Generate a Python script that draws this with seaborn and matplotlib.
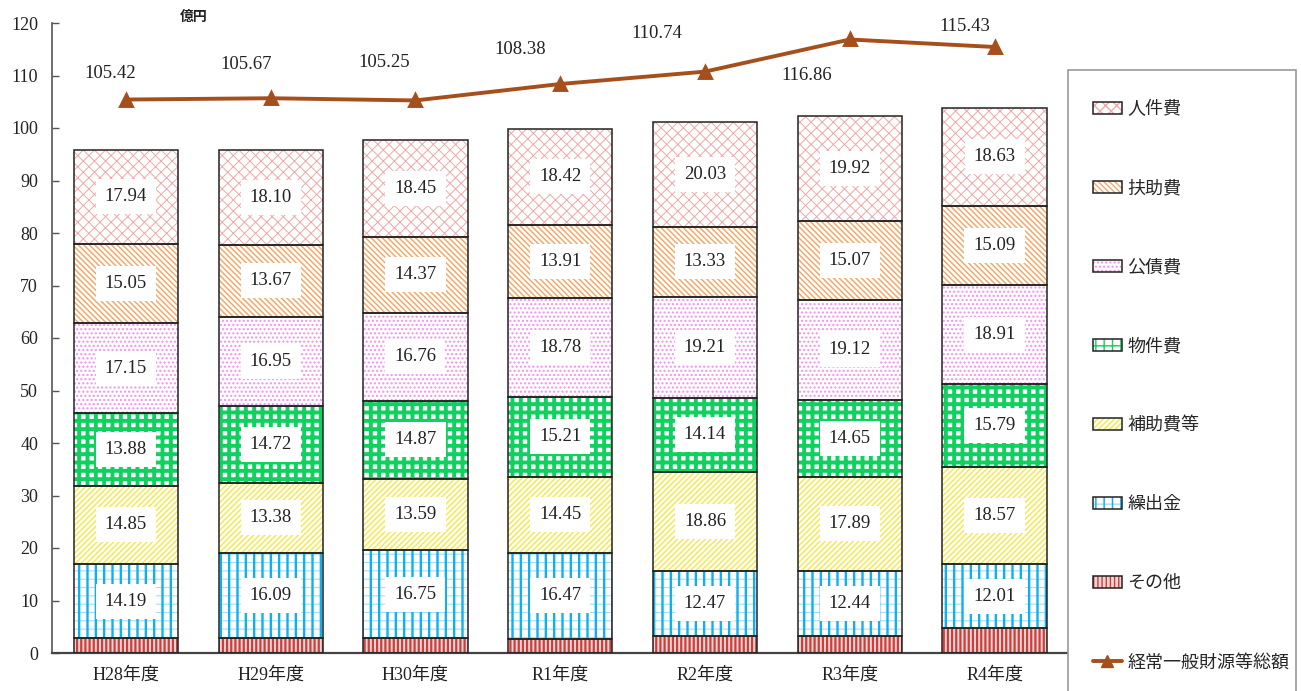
import matplotlib
matplotlib.use("Agg")
import matplotlib.pyplot as plt
import matplotlib.patches as mpatches
from matplotlib.lines import Line2D
import numpy as np
import seaborn as sns

# ---- data (億円) ----
years = ["H28年度", "H29年度", "H30年度", "R1年度", "R2年度", "R3年度", "R4年度"]
sonota = [2.78, 2.95, 2.85, 2.65, 3.15, 3.20, 4.85]
kuridashi = [14.19, 16.09, 16.75, 16.47, 12.47, 12.44, 12.01]
hojo = [14.85, 13.38, 13.59, 14.45, 18.86, 17.89, 18.57]
bukken = [13.88, 14.72, 14.87, 15.21, 14.14, 14.65, 15.79]
kousai = [17.15, 16.95, 16.76, 18.78, 19.21, 19.12, 18.91]
fujo = [15.05, 13.67, 14.37, 13.91, 13.33, 15.07, 15.09]
jinken = [17.94, 18.10, 18.45, 18.42, 20.03, 19.92, 18.63]
general_total = [105.42, 105.67, 105.25, 108.38, 110.74, 116.86, 115.43]

series_names = ["その他", "繰出金", "補助費等", "物件費", "公債費", "扶助費", "人件費"]
series_values = [sonota, kuridashi, hojo, bukken, kousai, fujo, jinken]
line_name = "経常一般財源等総額"
unit_label = "億円"

# ---- styles: face colour, hatch colour, hatch pattern, hatch line width, labelled ----
styles = {
    "その他":   dict(face="#F6D4D4", hcol="#C8403C", hatch="||||", hlw=1.6, label=False),
    "繰出金":   dict(face="white", hcol="#A6DDF6", hatch="++", hlw=0.8, label=True,
                     extra=("#10B0EE", "||", 1.7)),
    "補助費等": dict(face="white", hcol="#F5E840", hatch="//////", hlw=1.0, label=True),
    "物件費":   dict(face="white", hcol="#10D060", hatch="++", hlw=2.8, label=True),
    "公債費":   dict(face="white", hcol="#F490F0", hatch="....", hlw=1.0, label=True),
    "扶助費":   dict(face="white", hcol="#F5A86A", hatch="\\\\\\\\\\\\", hlw=1.1, label=True),
    "人件費":   dict(face="white", hcol="#F0A8A8", hatch="xxx", hlw=0.7, label=True),
}
line_color = "#A5501C"

SERIF = ["Liberation Serif", "Noto Sans CJK JP"]
CJK = ["Noto Sans CJK JP", "DejaVu Sans"]

sns.set_theme(style="white")
plt.rcParams["font.family"] = SERIF

W, H = 1301, 691
fig = plt.figure(figsize=(W / 100, H / 100), dpi=100)
ax = fig.add_axes([52 / W, 1 - 653 / H, (1067 - 52) / W, (653 - 23) / H])

BAR_W = 0.72
VAL_SIZE = 13.5


def set_hatch_lw(patches, lw):
    for p in patches:
        if hasattr(p, "set_hatch_linewidth"):
            p.set_hatch_linewidth(lw)


def stacked_layer(vals, bottom, face, edge, lw, hatch=None, zorder=2):
    n0 = len(ax.patches)
    kws = dict(facecolor=face, edgecolor=edge, linewidth=lw, zorder=zorder)
    if hatch:
        kws["hatch"] = hatch
    sns.barplot(x=years, y=vals, bottom=bottom, width=BAR_W, errorbar=None,
                color=(face if face != "none" else "white"), saturation=1,
                ax=ax, **kws)
    return ax.patches[n0:]


bottom = np.zeros(len(years))
for name, vals in zip(series_names, series_values):
    st = styles[name]
    vals = np.asarray(vals, dtype=float)
    new = stacked_layer(vals, bottom, st["face"], st["hcol"], 0, st["hatch"], 2)
    set_hatch_lw(new, st["hlw"])
    if "extra" in st:
        ecol, ehatch, elw = st["extra"]
        new = stacked_layer(vals, bottom, "none", ecol, 0, ehatch, 2.1)
        set_hatch_lw(new, elw)
    # segment outline
    stacked_layer(vals, bottom, "none", "#222222", 1.1, None, 3)
    if st["label"]:
        for i, v in enumerate(vals):
            ax.text(i, bottom[i] + v / 2, f"{v:.2f}", ha="center", va="center",
                    fontsize=VAL_SIZE, family=SERIF, color="#222222", zorder=5,
                    bbox=dict(facecolor="white", edgecolor="none", pad=6.5))
    bottom = bottom + vals

# total line
sns.pointplot(x=years, y=general_total, color=line_color, markers="^",
              linestyles="-", markersize=8, linewidth=2.8, errorbar=None, ax=ax)

label_offsets_px = [(-16, -26), (-24, -34), (-31, -38), (-40, -35),
                    (-48, -38), (-43, 36), (-30, -20)]
for i, (v, (dx, dy)) in enumerate(zip(general_total, label_offsets_px)):
    ax.annotate(f"{v:.2f}", xy=(i, v), xytext=(dx * 0.72, -dy * 0.72),
                textcoords="offset points", ha="center", va="center",
                fontsize=VAL_SIZE, family=SERIF, color="#222222")

# axes styling
ax.set_xlim(-0.51, 6.5)
ax.set_ylim(0, 120)
ax.set_yticks(range(0, 121, 10))
ax.set_xlabel("")
ax.set_ylabel("")
for s in ["top", "right"]:
    ax.spines[s].set_visible(False)
ax.spines["left"].set_color("#555555")
ax.spines["bottom"].set_color("#444444")
ax.spines["left"].set_linewidth(1.2)
ax.spines["bottom"].set_linewidth(1.6)
ax.tick_params(axis="y", direction="in", length=5, width=1, color="#555555",
               labelsize=13, pad=10, left=True)
ax.tick_params(axis="x", length=0, labelsize=13, pad=10)
for t in ax.get_xticklabels() + ax.get_yticklabels():
    t.set_family(SERIF)
    t.set_color("#222222")
ax.grid(False)

fig.text(180 / W, 1 - 17 / H, unit_label, fontsize=10, fontweight="bold",
         family=CJK, ha="left", va="center", color="#222222")

# legend box
fig.add_artist(mpatches.Rectangle((1068 / W, -0.05), (1296 - 1068) / W, (691 - 70) / H + 0.05,
                                  transform=fig.transFigure, fill=False,
                                  edgecolor="#999999", linewidth=1.2))

handles, labels = [], []
for name in series_names[::-1]:
    st = styles[name]
    parts = [mpatches.Patch(facecolor=st["face"], edgecolor=st["hcol"],
                            hatch=st["hatch"], linewidth=0)]
    if "extra" in st:
        parts.append(mpatches.Patch(facecolor="none", edgecolor=st["extra"][0],
                                    hatch=st["extra"][1], linewidth=0))
    parts.append(mpatches.Patch(facecolor="none", edgecolor="#222222", linewidth=1.1))
    handles.append(tuple(parts))
    labels.append(name)
handles.append(Line2D([], [], color=line_color, linewidth=2.8, marker="^", markersize=8))
labels.append(line_name)

fig.legend(handles, labels, loc="upper left",
           bbox_to_anchor=(1093 / W, 1 - 100 / H), frameon=False,
           prop=dict(family=CJK, size=13), labelspacing=3.38,
           handlelength=1.6, handleheight=0.65, handletextpad=0.3,
           borderaxespad=0, borderpad=0)

fig.savefig("out.png", dpi=100, facecolor="white")
